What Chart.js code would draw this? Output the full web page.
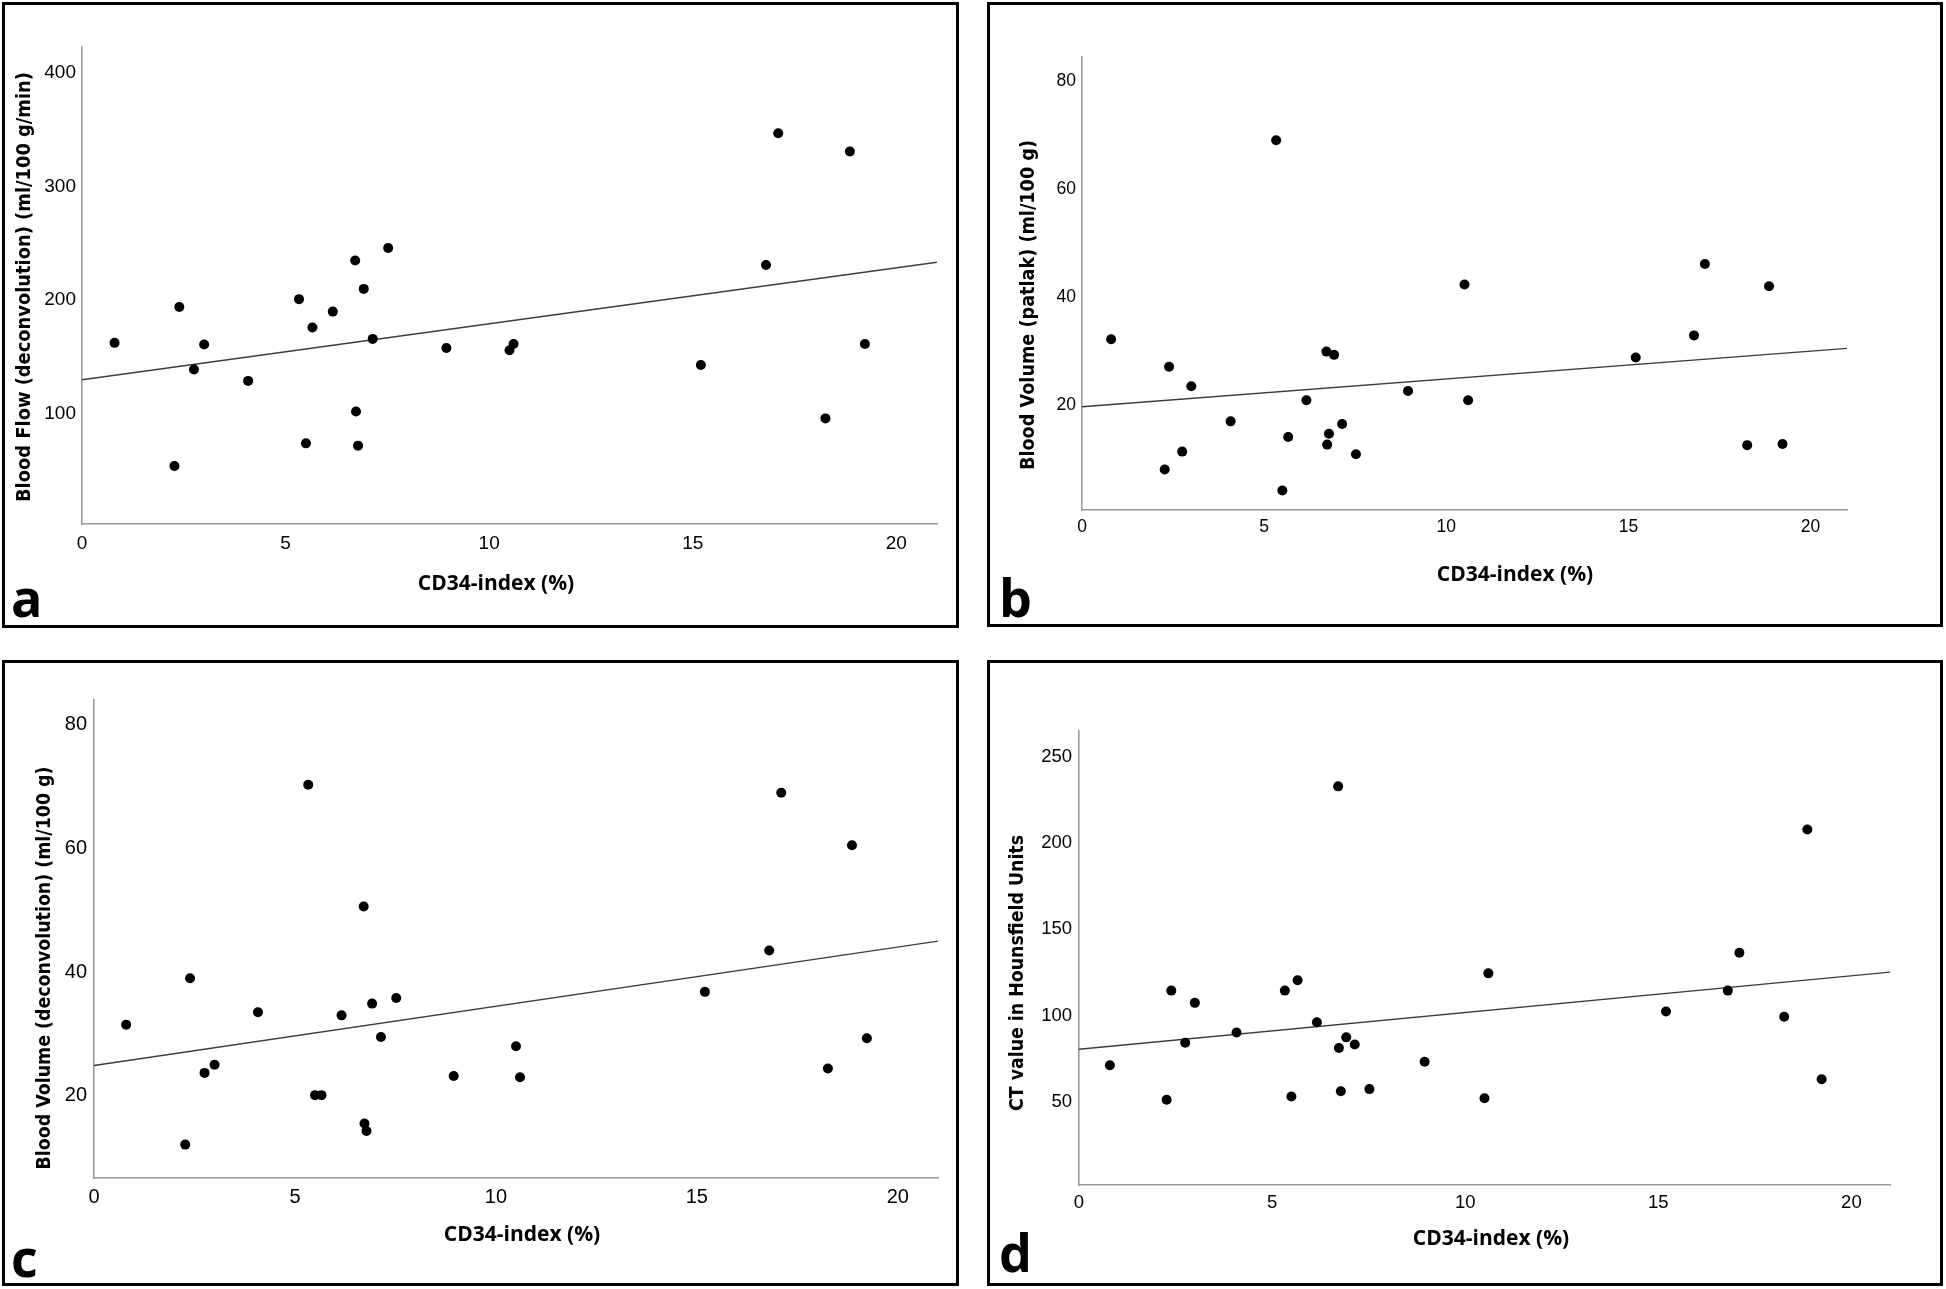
<!DOCTYPE html>
<html><head><meta charset="utf-8">
<script src="https://cdn.jsdelivr.net/npm/chart.js@4.4.1/dist/chart.umd.min.js"></script>
<style>
html,body{margin:0;padding:0;background:#fff;}
body{width:1946px;height:1289px;position:relative;overflow:hidden;}
.panel{position:absolute;box-sizing:border-box;border:3px solid #000;background:#fff;}
.panel canvas{position:absolute;left:0;top:0;}
</style></head><body>
<div class="panel" id="pa" style="left:2px;top:2px;width:957px;height:626px"><canvas id="ca"></canvas></div>
<div class="panel" id="pb" style="left:987px;top:2px;width:956px;height:625px"><canvas id="cb"></canvas></div>
<div class="panel" id="pc" style="left:2px;top:660px;width:957px;height:626px"><canvas id="cc"></canvas></div>
<div class="panel" id="pd" style="left:987px;top:660px;width:956px;height:626px"><canvas id="cd"></canvas></div>
<script>
// ---- data ----
const cd34Index = [0.8, 2.27, 2.39, 2.75, 3.0, 4.08, 5.33, 5.5, 5.66, 6.16, 6.71, 6.73, 6.78, 6.92, 7.14, 7.52, 8.95, 10.5, 10.6, 15.2, 16.8, 17.1, 18.26, 18.86, 19.23];
const bloodFlowDeconv = [162.5, 54, 194, 139, 161, 129, 201, 74, 176, 190, 235, 102, 72, 210, 166, 246, 158, 156, 161.5, 143, 231, 347, 96, 331, 161.5];
const bloodVolumePatlak = [32.3, 8.2, 27.2, 11.5, 23.6, 17.1, 69.1, 4.3, 14.2, 21, 30, 12.8, 14.8, 29.4, 16.6, 11, 22.7, 42.4, 21, 28.9, 33, 46.2, 12.7, 42.1, 12.9];
const bloodVolumeDeconv = [31.5, 12.1, 39, 23.7, 25, 33.5, 70.3, 20.1, 20.1, 33, 50.6, 15.5, 14.3, 34.9, 29.5, 35.8, 23.2, 28, 23, 36.8, 43.5, 69, 24.4, 60.5, 29.3];
const ctHounsfield = [71.2, 51.2, 114.5, 84.3, 107.4, 90.2, 114.5, 53.1, 120.5, 96.2, 232.9, 81.2, 56.2, 87.4, 83.3, 57.4, 73.3, 52.1, 124.5, 102.4, 114.5, 136.4, 99.3, 207.9, 63.1];
// fit line end values at x = fitX
const fitX = [0, 21];
const fitBloodFlowDeconv = [130, 233.5];
const fitBloodVolumePatlak = [19.8, 30.6];
const fitBloodVolumeDeconv = [24.9, 45.0];
const fitCtHounsfield = [80.5, 125.2];
// tick labels
const xTickValues = [0, 5, 10, 15, 20];
const yTicksA = [100, 200, 300, 400];
const yTicksB = [20, 40, 60, 80];
const yTicksC = [20, 40, 60, 80];
const yTicksD = [50, 100, 150, 200, 250];
// texts
const xTitle = 'CD34-index (%)';
const yTitleA = 'Blood Flow (deconvolution) (ml/100 g/min)';
const yTitleB = 'Blood Volume (patlak) (ml/100 g)';
const yTitleC = 'Blood Volume (deconvolution) (ml/100 g)';
const yTitleD = 'CT value in Hounsfield Units';
const panelLetters = ['a', 'b', 'c', 'd'];

// ---- layout / styling ----
const BORDER = 3;
const textPlugin = {
  id: 'panelText',
  afterDraw(chart, args, o) {
    const ctx = chart.ctx;
    ctx.save();
    ctx.fillStyle = '#000';
    // y title (fitted to the measured length along the axis)
    ctx.save();
    ctx.font = o.yFont;
    const natural = ctx.measureText(o.yTitle.text).width;
    const k = o.yTitle.len / natural;
    ctx.translate(o.yTitle.x - o.ox, o.yTitle.y - o.oy);
    ctx.rotate(-Math.PI / 2);
    ctx.scale(k, 1);
    ctx.textAlign = 'center';
    ctx.textBaseline = 'middle';
    ctx.fillText(o.yTitle.text, 0, 0);
    ctx.restore();
    // x title
    ctx.font = o.xFont;
    ctx.textAlign = 'center';
    ctx.textBaseline = 'middle';
    ctx.fillText(o.xTitle.text, o.xTitle.x - o.ox, o.xTitle.y - o.oy);
    // letter
    ctx.font = o.letterFont;
    ctx.textAlign = 'left';
    ctx.textBaseline = 'alphabetic';
    ctx.fillText(o.letter.text, o.letter.x - o.ox, o.letter.y - o.oy);
    ctx.restore();
  }
};

function makePanel(cfg) {
  const el = document.getElementById(cfg.panel);
  const ox = el.offsetLeft + BORDER, oy = el.offsetTop + BORDER;
  const W = el.offsetWidth - 2 * BORDER, H = el.offsetHeight - 2 * BORDER;
  const canvas = document.getElementById(cfg.canvas);
  canvas.width = W; canvas.height = H;
  canvas.style.width = W + 'px'; canvas.style.height = H + 'px';
  const YW = 60, XH = 40;
  const p = cfg.plot;
  const pts = cd34Index.map((x, i) => ({x: x, y: cfg.values[i]}));
  const fit = fitX.map((x, i) => ({x: x, y: cfg.fit[i]}));
  const tickFont = {family: '"Liberation Sans", Arial, sans-serif', size: cfg.tickSize, weight: 'normal'};
  return new Chart(canvas, {
    type: 'scatter',
    data: {datasets: [
      {data: pts, backgroundColor: '#000', borderColor: '#000', pointRadius: 5, pointHoverRadius: 5, borderWidth: 0},
      {type: 'line', data: fit, showLine: true, borderColor: '#3c3c3c', borderWidth: 1.4, pointRadius: 0, fill: false, tension: 0}
    ]},
    options: {
      responsive: false, animation: false, devicePixelRatio: 1,
      layout: {padding: {left: p.l - ox - YW, right: ox + W - p.r, top: p.t - oy, bottom: oy + H - p.b - XH}},
      plugins: {legend: {display: false}, tooltip: {enabled: false},
        panelText: {ox: ox, oy: oy,
          yFont: 'bold 20px "DejaVu Sans", Verdana, sans-serif',
          xFont: 'bold 21px "Open Sans", sans-serif',
          letterFont: 'bold 52px "Open Sans", sans-serif',
          yTitle: cfg.yTitle, xTitle: cfg.xTitle, letter: cfg.letter}},
      scales: {
        x: {type: 'linear', position: 'bottom', min: 0, max: 21,
          grid: {display: false, drawTicks: false},
          border: {display: true, color: '#9a9a9a', width: 1.6},
          ticks: {color: '#000', font: tickFont, padding: cfg.xPad, maxRotation: 0},
          afterBuildTicks: s => { s.ticks = xTickValues.map(v => ({value: v})); },
          afterFit: s => { s.height = XH; }},
        y: {type: 'linear', position: 'left', min: cfg.yMin, max: cfg.yMax,
          grid: {display: false, drawTicks: false},
          border: {display: true, color: '#9a9a9a', width: 1.6},
          ticks: {color: '#000', font: tickFont, padding: cfg.yPad},
          afterBuildTicks: s => { s.ticks = cfg.yTicks.map(v => ({value: v})); },
          afterFit: s => { s.width = YW; }}
      }
    },
    plugins: [textPlugin]
  });
}

makePanel({panel: 'pa', canvas: 'ca', values: bloodFlowDeconv, fit: fitBloodFlowDeconv,
  plot: {l: 82, r: 937, t: 47, b: 524}, yMin: 3, yMax: 423, yTicks: yTicksA, tickSize: 19, xPad: 8, yPad: 6,
  yTitle: {text: yTitleA, x: 25, y: 287, len: 430}, xTitle: {text: xTitle, x: 496, y: 584},
  letter: {text: panelLetters[0], x: 11, y: 617}});
makePanel({panel: 'pb', canvas: 'cb', values: bloodVolumePatlak, fit: fitBloodVolumePatlak,
  plot: {l: 1082, r: 1847, t: 57, b: 510}, yMin: 0.7, yMax: 84.5, yTicks: yTicksB, tickSize: 17.5, xPad: 6.5, yPad: 6,
  yTitle: {text: yTitleB, x: 1029, y: 305, len: 330}, xTitle: {text: xTitle, x: 1515, y: 575},
  letter: {text: panelLetters[1], x: 999, y: 617}});
makePanel({panel: 'pc', canvas: 'cc', values: bloodVolumeDeconv, fit: fitBloodVolumeDeconv,
  plot: {l: 94, r: 938, t: 700, b: 1178}, yMin: 6.7, yMax: 84, yTicks: yTicksC, tickSize: 20, xPad: 7.5, yPad: 7,
  yTitle: {text: yTitleC, x: 45, y: 968, len: 403}, xTitle: {text: xTitle, x: 522, y: 1235},
  letter: {text: panelLetters[2], x: 11, y: 1277}});
makePanel({panel: 'pd', canvas: 'cd', values: ctHounsfield, fit: fitCtHounsfield,
  plot: {l: 1079, r: 1890, t: 731, b: 1185}, yMin: 1.8, yMax: 265, yTicks: yTicksD, tickSize: 18.5, xPad: 7, yPad: 7,
  yTitle: {text: yTitleD, x: 1018, y: 973, len: 276}, xTitle: {text: xTitle, x: 1491, y: 1239},
  letter: {text: panelLetters[3], x: 999, y: 1272}});
</script>
</body></html>
